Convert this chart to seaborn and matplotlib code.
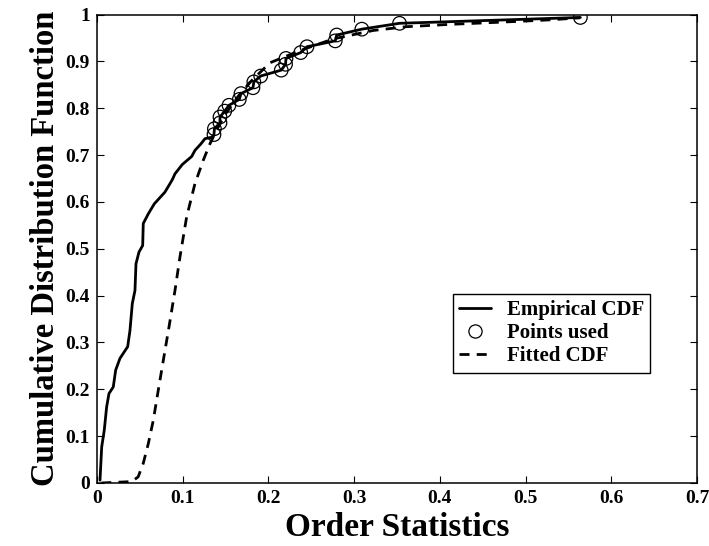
import matplotlib
matplotlib.use("Agg")
import matplotlib.pyplot as plt
from matplotlib.lines import Line2D
import seaborn as sns
import pandas as pd

# Empirical CDF (traced vertices of the sorted-sample curve)
empirical_x = [0.0035, 0.0055, 0.0085, 0.0113, 0.014, 0.019, 0.0218, 0.0268, 0.0358,
               0.0385, 0.0412, 0.0443, 0.0455, 0.049, 0.0533, 0.054, 0.060, 0.0669,
               0.0793, 0.0879, 0.091, 0.0996, 0.1105, 0.1143, 0.1213, 0.126, 0.1338,
               0.1365, 0.137, 0.1435, 0.1435, 0.149, 0.154, 0.166, 0.168, 0.182, 0.183,
               0.191, 0.215, 0.220, 0.2205, 0.2377, 0.245, 0.278, 0.2797, 0.309, 0.353,
               0.564]
empirical_y = [0.006, 0.077, 0.113, 0.163, 0.191, 0.205, 0.241, 0.266, 0.291,
               0.326, 0.383, 0.411, 0.468, 0.493, 0.507, 0.554, 0.575, 0.596,
               0.621, 0.6475, 0.660, 0.680, 0.697, 0.710, 0.724, 0.735, 0.738,
               0.74375, 0.75625, 0.76875, 0.78125, 0.79375, 0.80625, 0.81875, 0.83125,
               0.84375, 0.85625, 0.86875, 0.88125, 0.89375, 0.90625, 0.91875, 0.93125,
               0.94375, 0.95625, 0.96875, 0.98125, 0.99375]

# Upper order statistics used for the fit
points_x = [0.1365, 0.137, 0.1435, 0.1435, 0.149, 0.154, 0.166, 0.168, 0.182, 0.183,
            0.191, 0.215, 0.220, 0.2205, 0.2377, 0.245, 0.278, 0.2797, 0.309, 0.353, 0.564]
points_y = [0.74375, 0.75625, 0.76875, 0.78125, 0.79375, 0.80625, 0.81875, 0.83125,
            0.84375, 0.85625, 0.86875, 0.88125, 0.89375, 0.90625, 0.91875, 0.93125,
            0.94375, 0.95625, 0.96875, 0.98125, 0.99375]

# Fitted CDF
fitted_x = [0.005, 0.0405, 0.048, 0.054, 0.060, 0.0657, 0.0715, 0.0774, 0.084, 0.091,
            0.0968, 0.1046, 0.1143, 0.124, 0.1318, 0.140, 0.150, 0.165, 0.180, 0.190,
            0.2018, 0.2368, 0.2757, 0.3224, 0.361, 0.412, 0.470, 0.5285, 0.5635]
fitted_y = [0.0, 0.003, 0.013, 0.042, 0.085, 0.134, 0.198, 0.262, 0.333, 0.411,
            0.4825, 0.568, 0.639, 0.689, 0.724, 0.755, 0.788, 0.826, 0.858, 0.876,
            0.897, 0.923, 0.948, 0.966, 0.974, 0.979, 0.9836, 0.9886, 0.993]

x_ticks = [0, 0.1, 0.2, 0.3, 0.4, 0.5, 0.6, 0.7]
x_tick_labels = ["0", "0.1", "0.2", "0.3", "0.4", "0.5", "0.6", "0.7"]
y_ticks = [0, 0.1, 0.2, 0.3, 0.4, 0.5, 0.6, 0.7, 0.8, 0.9, 1.0]
y_tick_labels = ["0", "0.1", "0.2", "0.3", "0.4", "0.5", "0.6", "0.7", "0.8", "0.9", "1"]

legend_labels = ["Empirical CDF", "Points used", "Fitted CDF"]

sns.set_theme(style="ticks")
plt.rcParams["font.family"] = ["Liberation Serif", "DejaVu Serif"]
plt.rcParams["font.weight"] = "bold"
plt.rcParams["text.color"] = "black"
plt.rcParams["axes.labelcolor"] = "black"

fig = plt.figure(figsize=(7.09, 5.46), dpi=100)
ax = fig.add_axes([0.1368, 0.1154, 0.8462, 0.858])

emp = pd.DataFrame({"x": empirical_x, "y": empirical_y})
pts = pd.DataFrame({"x": points_x, "y": points_y})
fit = pd.DataFrame({"x": fitted_x, "y": fitted_y})

dash = (0, (3.6, 2.6))
sns.lineplot(data=fit, x="x", y="y", ax=ax, sort=False, estimator=None,
             color="black", lw=2.0, linestyle=dash)
sns.lineplot(data=emp, x="x", y="y", ax=ax, sort=False, estimator=None,
             color="black", lw=2.0)
sns.scatterplot(data=pts, x="x", y="y", ax=ax, marker="o", s=95,
                facecolors="none", edgecolors="black", linewidths=0.9, zorder=4)

ax.set_xlim(0, 0.7)
ax.set_ylim(0, 1)
ax.set_xticks(x_ticks)
ax.set_xticklabels(x_tick_labels)
ax.set_yticks(y_ticks)
ax.set_yticklabels(y_tick_labels)
ax.tick_params(direction="in", length=5, width=0.8, top=True, right=True,
               labelsize=14, pad=5, colors="black")
for lab in ax.get_xticklabels() + ax.get_yticklabels():
    lab.set_fontweight("bold")
for sp in ax.spines.values():
    sp.set_visible(True)
    sp.set_linewidth(1.1)
    sp.set_color("black")

ax.set_xlabel("Order Statistics", fontsize=24, fontweight="bold", labelpad=4,
              color="black")
ax.set_ylabel("Cumulative Distribution Function", fontsize=23.5, fontweight="bold",
              labelpad=3, color="black")

handles = [
    Line2D([], [], color="black", lw=2.0),
    Line2D([], [], color="black", marker="o", linestyle="none", markersize=9.5,
           markerfacecolor="none", markeredgewidth=0.9),
    Line2D([], [], color="black", lw=2.0, linestyle=dash),
]
leg = ax.legend(handles, legend_labels, loc="upper left", bbox_to_anchor=(0.593, 0.403),
                frameon=True, fancybox=False, edgecolor="black", framealpha=1,
                prop={"size": 15, "weight": "bold"}, handlelength=1.55,
                borderpad=0.3, labelspacing=0.14, handletextpad=0.75,
                borderaxespad=0)
leg.get_frame().set_linewidth(1.0)

fig.savefig("out.png", dpi=100)
